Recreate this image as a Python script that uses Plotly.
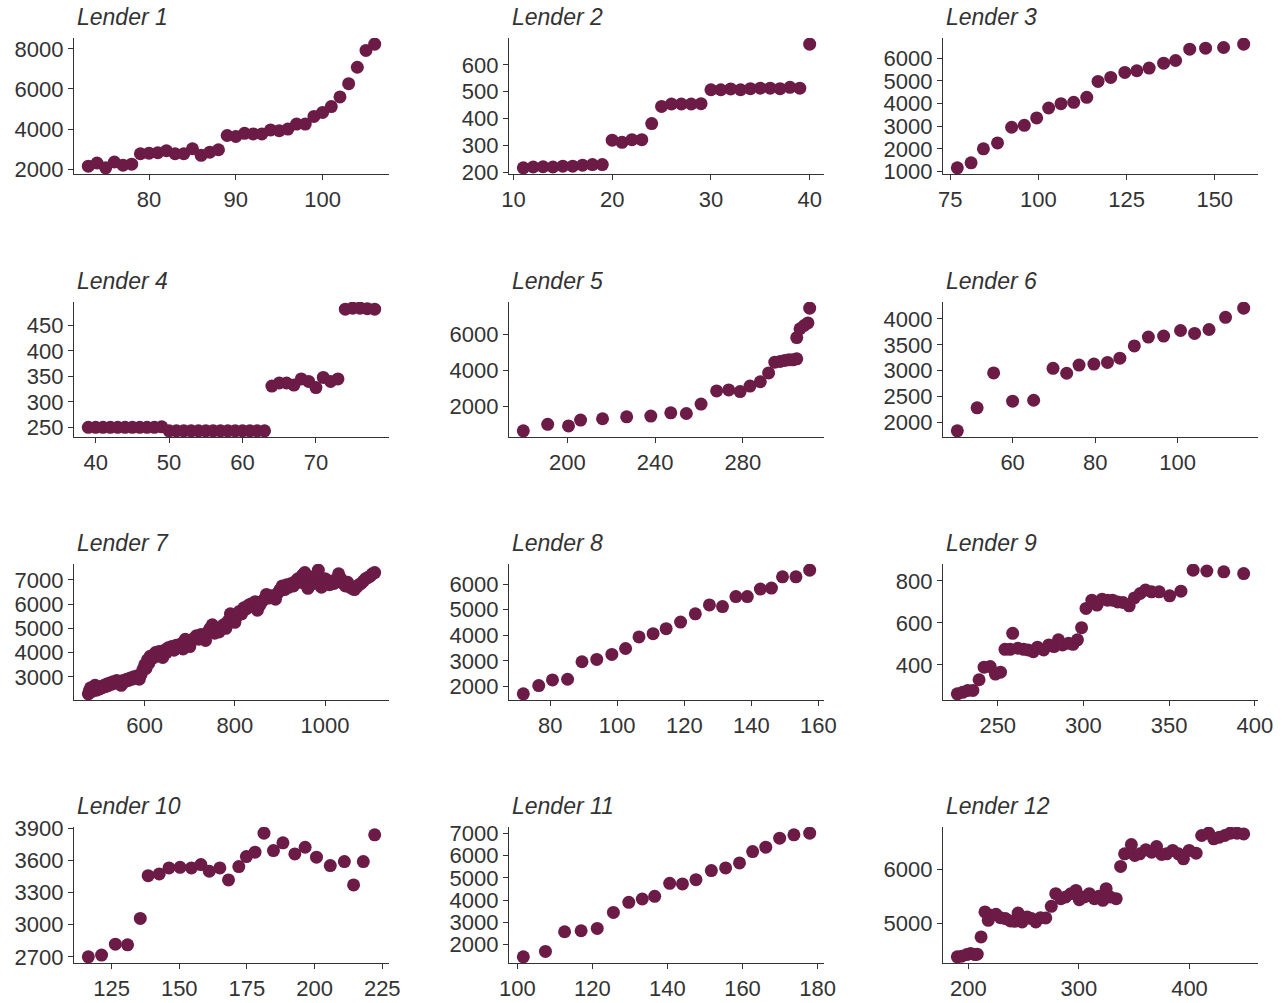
import plotly.graph_objects as go

# ---------------- data ----------------
lender_names = ["Lender %d" % i for i in range(1, 13)]

l1_x = list(range(73, 107))
l1_y = [2150, 2310, 2070, 2360, 2200, 2250, 2770, 2800, 2820, 2920, 2770, 2770,
        3020, 2690, 2850, 2970, 3680, 3630, 3790, 3760, 3760, 3960, 3920, 4000,
        4250, 4250, 4630, 4830, 5120, 5600, 6260, 7080, 7920, 8230]

l2_x = list(range(11, 41))
l2_y = [216, 219, 220, 219, 222, 222, 226, 228, 228, 319, 311, 321, 321, 381,
        445, 454, 454, 454, 455, 507, 507, 510, 507, 511, 513, 513, 511, 516,
        513, 677]

l3_x = [77, 80.9, 84.4, 88.4, 92.4, 96, 99.5, 102.9, 106.4, 110, 113.7, 116.9,
        120.5, 124.5, 127.9, 131.4, 135.5, 138.9, 142.9, 147.4, 152.5, 158.2]
l3_y = [1161, 1381, 1997, 2261, 2950, 3038, 3361, 3801, 3991, 4050, 4270, 4974,
        5150, 5370, 5443, 5560, 5780, 5897, 6396, 6440, 6470, 6616]

l4_x = list(range(39, 79))
l4_y = [250, 250, 250, 250, 250, 250, 250, 250, 250, 250, 251,
        243, 243, 243, 243, 243, 243, 243, 243, 243, 243, 243, 243, 243, 243,
        331, 337, 337, 333, 345, 340, 328, 348, 340, 345,
        482, 484, 484, 483, 482]

l5_x = [179.9, 191, 200.5, 206, 216, 227, 238, 247.1, 254.2, 260.9, 268, 273.5,
        278.7, 283.2, 287.9, 291.7, 294.5, 296.9, 299, 301, 302.8, 304.5, 304.5,
        306, 307.9, 309.6, 310.4]
l5_y = [636, 1000, 909, 1236, 1309, 1418, 1455, 1636, 1600, 2127, 2855, 2909,
        2818, 3127, 3364, 3855, 4455, 4490, 4545, 4582, 4582, 4636, 5818, 6309,
        6490, 6636, 7455]

l6_x = [46.6, 51.4, 55.4, 60, 65.1, 69.8, 73.1, 76.1, 79.7, 83, 86, 89.5, 92.9,
        96.6, 100.7, 104.1, 107.6, 111.6, 116]
l6_y = [1834, 2280, 2955, 2408, 2427, 3045, 2949, 3108, 3127, 3159, 3242, 3478,
        3650, 3669, 3777, 3720, 3796, 4032, 4210]

l7_x = [475, 478, 480, 483, 486, 490, 493, 496, 500, 503, 506, 510, 513, 516,
        520, 523, 527, 530, 534, 538, 541, 545, 548, 552, 556, 560, 564, 568,
        572, 576, 580, 584, 588, 592, 596, 600, 603, 606, 609, 612, 616, 620,
        624, 628, 632, 636, 640, 644, 648, 652, 656, 660, 665, 670, 675, 680,
        685, 690, 695, 700, 705, 710, 715, 720, 725, 730, 735, 740, 745, 750,
        755, 760, 765, 770, 775, 780, 785, 790, 795, 800, 805, 810, 815, 820,
        825, 830, 835, 840, 845, 850, 855, 860, 865, 870, 875, 880, 885, 890,
        895, 900, 905, 910, 915, 920, 925, 930, 935, 940, 945, 950, 955, 958,
        962, 966, 970, 975, 980, 985, 988, 992, 996, 1000, 1005, 1010, 1015,
        1020, 1025, 1030, 1035, 1040, 1045, 1050, 1055, 1060, 1065, 1070, 1075,
        1080, 1085, 1090, 1095, 1100, 1105, 1110]
l7_y = [2300, 2450, 2550, 2400, 2500, 2650, 2450, 2550, 2500, 2600, 2550, 2650,
        2600, 2700, 2650, 2750, 2700, 2800, 2750, 2850, 2800, 2700, 2650, 2850,
        2800, 2900, 2850, 2950, 2900, 3000, 2950, 3050, 2900, 3100, 3300, 3500,
        3350, 3700, 3550, 3850, 3750, 3900, 4000, 3850, 4050, 3950, 3800, 4100,
        4000, 4200, 4150, 4250, 4100, 4300, 4200, 4350, 4150, 4550, 4400, 4250,
        4500, 4600, 4700, 4550, 4750, 4650, 4500, 4850, 5000, 5150, 4800, 5000,
        4850, 5050, 5150, 5000, 5300, 5600, 5400, 5250, 5500, 5700, 5600, 5850,
        5800, 5950, 6000, 5900, 6100, 5750, 5950, 6100, 6200, 6400, 6250, 6350,
        6300, 6200, 6450, 6600, 6750, 6600, 6800, 6700, 6850, 6750, 6950, 7050,
        6900, 7200, 7300, 6800, 6650, 6900, 7000, 6850, 7200, 7400, 7100, 6700,
        6900, 7050, 6900, 6800, 6950, 6850, 7000, 7250, 7050, 6850, 6750, 6900,
        6700, 6650, 6600, 6700, 6800, 6850, 6950, 7050, 7100, 7150, 7250, 7300]

l8_x = [72, 76.6, 80.7, 85.2, 89.5, 93.9, 98.4, 102.5, 106.5, 110.7, 114.6,
        118.9, 123.3, 127.5, 131.4, 135.4, 138.8, 142.7, 146, 149.3, 153.3, 157.4]
l8_y = [1716, 2039, 2258, 2284, 2968, 3058, 3252, 3484, 3935, 4065, 4258, 4516,
        4839, 5187, 5123, 5510, 5510, 5806, 5845, 6284, 6284, 6542]

l9_x = [226.4, 229.5, 232.5, 235.5, 239.1, 242, 245.6, 248.6, 251.6, 254.2,
        257.2, 258.7, 261.7, 265.1, 267.7, 270.7, 273.2, 276.8, 279.8, 282.8,
        285.4, 287.8, 291.3, 293.9, 296.5, 298.9, 301.5, 304.9, 307.9, 310.9,
        314, 317, 320, 323.1, 326.7, 329.7, 333.1, 336.2, 339.8, 344.2, 350.3,
        356.9, 364, 372, 381.9, 393.5]
l9_y = [262, 269, 278, 278, 329, 389, 392, 356, 365, 474, 474, 550, 479, 474,
        471, 463, 484, 471, 495, 487, 519, 495, 503, 498, 519, 577, 669, 708,
        685, 713, 708, 708, 700, 697, 681, 719, 740, 756, 748, 748, 729, 751,
        851, 847, 843, 835]

l10_x = [116.4, 121.3, 126.4, 130.9, 135.6, 138.5, 142.6, 146.2, 150.3, 154.5,
         158, 161.1, 165, 168.2, 172, 174.8, 178, 181.3, 184.8, 188.3, 192.7,
         196.5, 200.7, 205.8, 211, 214.4, 218, 222.2]
l10_y = [2700, 2716, 2818, 2812, 3058, 3457, 3473, 3529, 3535, 3529, 3560, 3498,
         3529, 3417, 3542, 3635, 3676, 3853, 3691, 3763, 3660, 3722, 3629, 3551,
         3588, 3370, 3588, 3838]

l11_x = [101.6, 107.5, 112.6, 117, 121.3, 125.6, 129.7, 133.3, 136.6, 140.6,
         144, 147.6, 151.7, 155.5, 159.2, 162.7, 166.2, 169.9, 173.7, 177.9]
l11_y = [1461, 1701, 2584, 2629, 2734, 3452, 3901, 4051, 4171, 4754, 4725, 4919,
         5323, 5443, 5668, 6177, 6371, 6775, 6925, 7000]

l12_x = [190, 194, 198.5, 202, 206, 208, 211.5, 215, 218, 221, 225, 229, 233.5,
         238, 242, 245, 248.6, 253.2, 257, 261, 265.3, 270, 275, 279, 283.6,
         288, 292.7, 297.3, 300.3, 305, 309.4, 314, 318, 321.6, 324.6, 328.3,
         333.7, 337.7, 341.3, 347.4, 350.5, 355, 360.5, 365.7, 370.2, 374.8,
         379.3, 384.8, 390, 394.5, 399.7, 406, 411, 417.3, 421.9, 427, 431.9,
         437, 443, 449]
l12_y = [4387, 4399, 4429, 4448, 4429, 4436, 4755, 5215, 5061, 5153, 5172, 5110,
         5092, 5049, 5043, 5196, 5031, 5123, 5092, 5031, 5110, 5104, 5319, 5552,
         5460, 5491, 5552, 5613, 5442, 5491, 5552, 5460, 5503, 5429, 5644, 5491,
         5460, 6055, 6288, 6460, 6258, 6288, 6362, 6319, 6423, 6276, 6288, 6350,
         6288, 6196, 6350, 6300, 6626, 6669, 6564, 6595, 6626, 6669, 6669, 6656]

series_x = [l1_x, l2_x, l3_x, l4_x, l5_x, l6_x, l7_x, l8_x, l9_x, l10_x, l11_x, l12_x]
series_y = [l1_y, l2_y, l3_y, l4_y, l5_y, l6_y, l7_y, l8_y, l9_y, l10_y, l11_y, l12_y]

x_ticks = [[80, 90, 100], [10, 20, 30, 40], [75, 100, 125, 150],
           [40, 50, 60, 70], [200, 240, 280], [60, 80, 100, 120],
           [600, 800, 1000], [80, 100, 120, 140, 160], [250, 300, 350, 400],
           [125, 150, 175, 200, 225], [100, 120, 140, 160, 180], [200, 300, 400]]
y_ticks = [[2000, 4000, 6000, 8000], [200, 300, 400, 500, 600],
           [1000, 2000, 3000, 4000, 5000, 6000], [250, 300, 350, 400, 450],
           [2000, 4000, 6000], [2000, 2500, 3000, 3500, 4000],
           [3000, 4000, 5000, 6000, 7000], [2000, 3000, 4000, 5000, 6000],
           [400, 600, 800], [2700, 3000, 3300, 3600, 3900],
           [2000, 3000, 4000, 5000, 6000, 7000], [5000, 6000]]

# ---------------- layout ----------------
W, H = 1284, 1003
col_px = [(74, 389), (509, 824), (943, 1258)]
row_px = [(38, 174), (302, 437), (564, 700), (827, 963)]
DOT = "#6B1B46"
INK = "#333333"
FONT = "Liberation Sans, Arial, Helvetica, sans-serif"


def expand(vals, frac=0.05):
    lo, hi = min(vals), max(vals)
    d = (hi - lo) * frac
    return [lo - d, hi + d]


fig = go.Figure()
annotations = []
for i in range(12):
    r, c = divmod(i, 3)
    x0, x1 = col_px[c]
    yt, yb = row_px[r]
    ax = "" if i == 0 else str(i + 1)
    fig.add_trace(go.Scatter(
        x=series_x[i], y=series_y[i], mode="markers",
        marker=dict(color=DOT, size=13, line=dict(width=0)),
        xaxis="x" + ax, yaxis="y" + ax, showlegend=False,
        hoverinfo="x+y"))
    common = dict(showgrid=False, zeroline=False, showline=True,
                  linecolor=INK, linewidth=1.2, ticks="outside", ticklen=5,
                  tickwidth=1.2, tickcolor=INK, automargin=False,
                  tickfont=dict(family=FONT, size=22, color=INK))
    fig.layout["xaxis" + ax] = dict(
        domain=[x0 / W, x1 / W], anchor="y" + ax,
        range=expand(series_x[i]), tickvals=x_ticks[i], **common)
    fig.layout["yaxis" + ax] = dict(
        domain=[1 - yb / H, 1 - yt / H], anchor="x" + ax,
        range=expand(series_y[i]), tickvals=y_ticks[i], **common)
    annotations.append(dict(
        text="<i>%s</i>" % lender_names[i], xref="paper", yref="paper",
        x=(x0 + 1) / W, y=1 - (yt - 21) / H, xanchor="left", yanchor="middle",
        showarrow=False, font=dict(family=FONT, size=23, color=INK)))

fig.update_layout(width=W, height=H, margin=dict(l=0, r=0, t=0, b=0, pad=0),
                  autosize=False,
                  paper_bgcolor="white", plot_bgcolor="white",
                  annotations=annotations, showlegend=False)

fig.write_html("out.html", config={"displayModeBar": False},
               post_script="document.body.style.margin='0';"
                           "document.body.style.overflow='hidden';")
